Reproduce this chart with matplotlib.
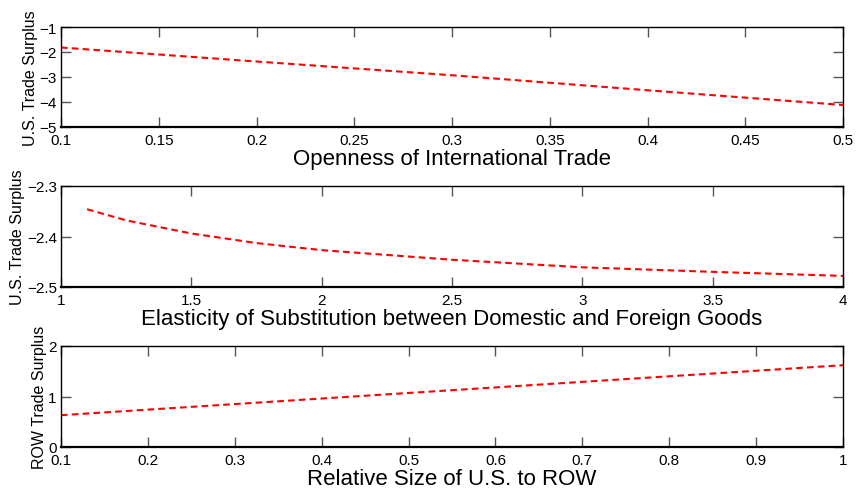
import matplotlib
matplotlib.use("Agg")
import matplotlib.pyplot as plt

plt.rcParams['font.family'] = ['Liberation Sans', 'DejaVu Sans']

# Panel 1: openness of trade vs U.S. trade surplus
open_x = [0.1, 0.2, 0.3, 0.4, 0.5]
open_y = [-1.82, -2.38, -2.93, -3.53, -4.12]

# Panel 2: elasticity of substitution vs U.S. trade surplus
elas_x = [1.1, 1.25, 1.5, 1.75, 2.0, 2.5, 3.0, 3.5, 4.0]
elas_y = [-2.346, -2.368, -2.394, -2.413, -2.427, -2.446, -2.461, -2.470, -2.478]

# Panel 3: relative size vs ROW trade surplus
size_x = [0.1, 0.4, 0.7, 1.0]
size_y = [0.63, 0.96, 1.29, 1.62]

panels = [
    dict(x=open_x, y=open_y, xlim=(0.1, 0.5), ylim=(-5, -1),
         xticks=[0.1, 0.15, 0.2, 0.25, 0.3, 0.35, 0.4, 0.45, 0.5],
         xticklabels=['0.1', '0.15', '0.2', '0.25', '0.3', '0.35', '0.4', '0.45', '0.5'],
         yticks=[-5, -4, -3, -2, -1],
         yticklabels=['\u22125', '\u22124', '\u22123', '\u22122', '\u22121'],
         xlabel='Openness of International Trade', ylabel='U.S. Trade Surplus'),
    dict(x=elas_x, y=elas_y, xlim=(1, 4), ylim=(-2.5, -2.3),
         xticks=[1, 1.5, 2, 2.5, 3, 3.5, 4],
         xticklabels=['1', '1.5', '2', '2.5', '3', '3.5', '4'],
         yticks=[-2.5, -2.4, -2.3],
         yticklabels=['\u22122.5', '\u22122.4', '\u22122.3'],
         xlabel='Elasticity of Substitution between Domestic and Foreign Goods',
         ylabel='U.S. Trade Surplus'),
    dict(x=size_x, y=size_y, xlim=(0.1, 1.0), ylim=(0, 2),
         xticks=[0.1, 0.2, 0.3, 0.4, 0.5, 0.6, 0.7, 0.8, 0.9, 1.0],
         xticklabels=['0.1', '0.2', '0.3', '0.4', '0.5', '0.6', '0.7', '0.8', '0.9', '1'],
         yticks=[0, 1, 2], yticklabels=['0', '1', '2'],
         xlabel='Relative Size of U.S. to ROW', ylabel='ROW Trade Surplus'),
]

W, H = 856, 489
fig = plt.figure(figsize=(W / 100, H / 100), dpi=100)

# axes boxes in pixels: (top, bottom)
boxes = [(28, 128), (187, 288), (347, 448)]
left, right = 61, 843

for p, (top, bot) in zip(panels, boxes):
    ax = fig.add_axes([left / W, 1 - bot / H, (right - left) / W, (bot - top) / H])
    ax.plot(p['x'], p['y'], color='#ff0000', linestyle=(0, (3.2, 2.0)), linewidth=1.5)
    ax.set_xlim(*p['xlim'])
    ax.set_ylim(*p['ylim'])
    ax.set_xticks(p['xticks'])
    ax.set_xticklabels(p['xticklabels'])
    ax.set_yticks(p['yticks'])
    ax.set_yticklabels(p['yticklabels'])
    ax.tick_params(direction='in', length=7, width=1, color='#555555',
                   top=True, right=True, labelsize=11)
    ax.tick_params(axis='x', pad=4)
    ax.tick_params(axis='y', pad=3)
    for s in ax.spines.values():
        s.set_linewidth(1.0)
    ax.spines['bottom'].set_linewidth(1.6)
    ax.set_xlabel(p['xlabel'], fontsize=16, labelpad=1)
    ax.set_ylabel(p['ylabel'], fontsize=11.5, labelpad=1)

fig.savefig('out.png', dpi=100)
